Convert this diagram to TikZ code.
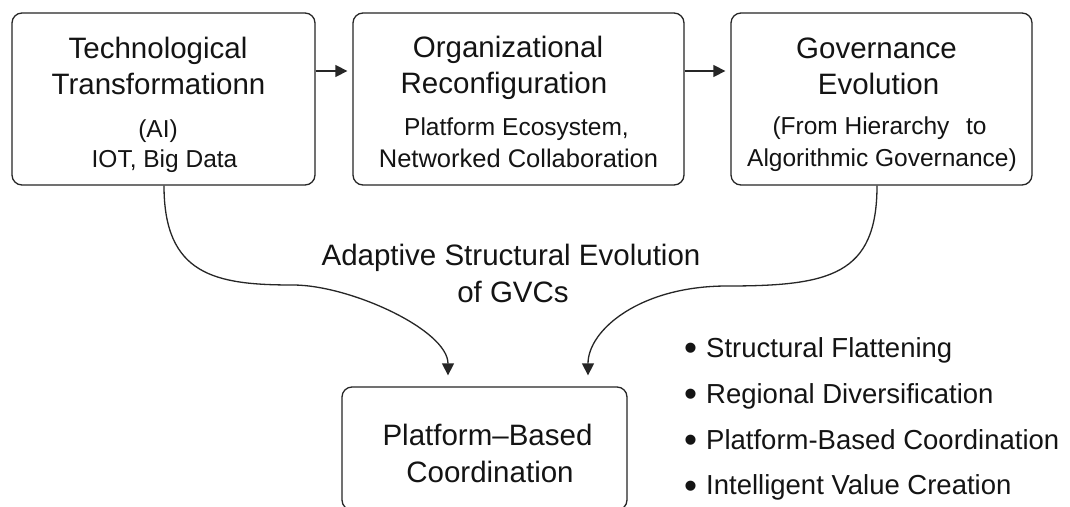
\documentclass[tikz,border=0pt]{standalone}
\usepackage{fontspec}
\setmainfont{Liberation Sans}
\usetikzlibrary{arrows.meta}
\tikzset{
  box/.style={draw=black!85, line width=1.3pt, rounded corners=10pt, inner sep=0pt},
  ttl/.style={anchor=base, inner sep=0pt, text=black!92, font=\fontsize{29.5}{34}\selectfont},
  sub/.style={anchor=base, inner sep=0pt, text=black!92, font=\fontsize{24.5}{30}\selectfont},
  mid/.style={anchor=base, inner sep=0pt, text=black!92, font=\fontsize{29.5}{34}\selectfont},
  bul/.style={anchor=base west, inner sep=0pt, text=black!92, font=\fontsize{27.5}{33}\selectfont},
  arr/.style={draw=black!85, line width=1.3pt, -{Triangle[length=12pt,width=12pt]}},
}
\newcommand{\bigbul}{\raisebox{-3.8pt}{\scalebox{1.35}{•}}}
\begin{document}
\begin{tikzpicture}[x=1pt,y=-1pt]
\clip (0,0) rectangle (1070,506);
\fill[white] (0,0) rectangle (1070,506);
% boxes
\node[box, minimum width=303pt, minimum height=172pt] (b1) at (163.5,99) {};
\node[box, minimum width=331pt, minimum height=172pt] (b2) at (518.5,99) {};
\node[box, minimum width=301pt, minimum height=172pt] (b3) at (881.5,99) {};
\node[box, minimum width=285pt, minimum height=123pt] (b4) at (484.5,448.5) {};
% box 1 text
\node[ttl] (t1a) at (158,58) {Technological};
\node[ttl] (t1b) at (158.5,94) {Transformationn};
\node[sub] (t1c) at (158,137) {(AI)};
\node[sub] (t1d) at (164.5,167) {IOT, Big Data};
% box 2 text
\node[ttl] (t2a) at (508,57) {Organizational};
\node[ttl] (t2b) at (504,93) {Reconfiguration};
\node[sub] (t2c) at (516.5,135) {Platform Ecosystem,};
\node[sub, font=\fontsize{25.5}{30}\selectfont] (t2d) at (518.5,167) {Networked Collaboration};
% box 3 text
\node[ttl] (t3a) at (876.5,58) {Governance};
\node[ttl] (t3b) at (878.5,94) {Evolution};
\node[sub] (t3c) at (879.5,134) {(From Hierarchy\hspace{0.4em} to};
\node[sub] (t3d) at (882,166) {Algorithmic Governance)};
% middle label
\node[mid] (m1) at (511,265) {Adaptive Structural Evolution};
\node[mid] (m2) at (513,302) {of GVCs};
% bottom box text
\node[ttl] (t4a) at (487.5,445) {Platform–Based};
\node[ttl] (t4b) at (490,482) {Coordination};
% bullets
\node[bul] (l1) at (684,357) {\bigbul\hspace{9pt}Structural Flattening};
\node[bul] (l2) at (684,403) {\bigbul\hspace{9pt}Regional Diversification};
\node[bul] (l3) at (684,449) {\bigbul\hspace{9pt}Platform-Based Coordination};
\node[bul] (l4) at (684,494.5) {\bigbul\hspace{9pt}Intelligent Value Creation};
% connectors
\draw[arr, shorten >=5pt] ([yshift=28pt]b1.east) -- ([yshift=28pt]b2.west);
\draw[arr, shorten >=5pt] ([yshift=28pt]b2.east) -- ([yshift=28pt]b3.west);
\coordinate (h1) at (293,285);
\coordinate (h2) at (727,286);
\draw[arr, shorten >=11pt] ([xshift=0.5pt]b1.south) .. controls (164,275) and (215,285) .. (h1)
  .. controls (350,285) and (448,330) .. ([xshift=-36.5pt]b4.north);
\draw[arr, shorten >=11pt] ([xshift=-4.5pt]b3.south) .. controls (877,275) and (830,286) .. (h2)
  .. controls (640,286) and (588,330) .. ([xshift=103.5pt]b4.north);
\end{tikzpicture}
\end{document}
